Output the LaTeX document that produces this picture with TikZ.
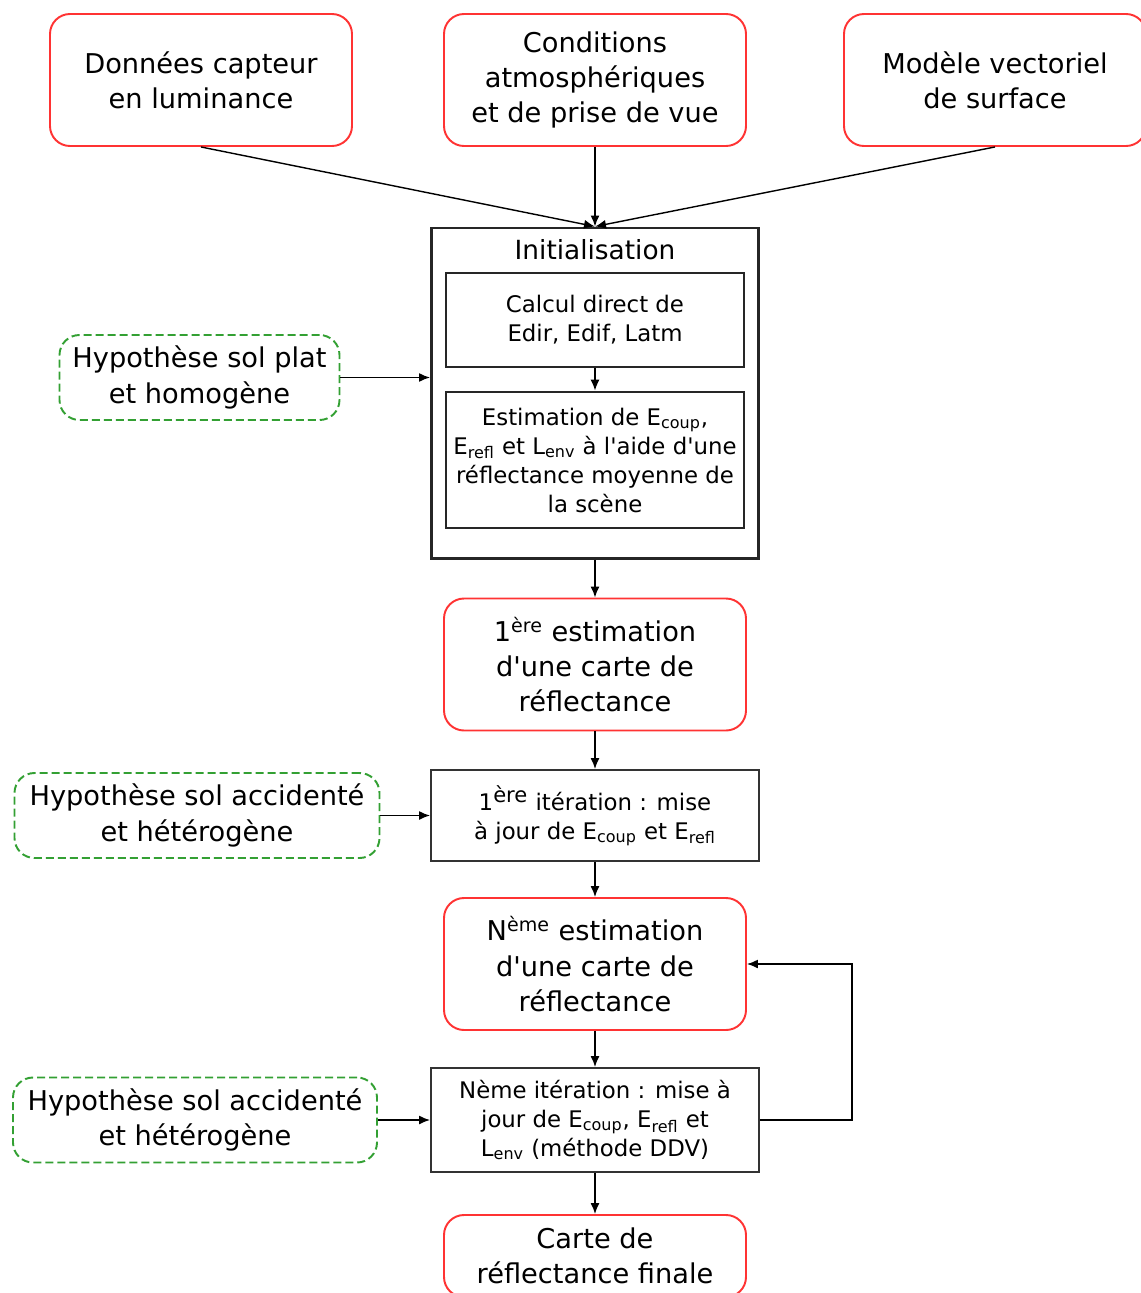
\documentclass[tikz,border=0pt]{standalone}
\usepackage{fontspec}
\setmainfont{DejaVu Sans}
\usetikzlibrary{positioning,arrows.meta}
\definecolor{boxred}{RGB}{255,51,51}
\definecolor{hypgreen}{RGB}{51,160,51}

\begin{document}
\begin{tikzpicture}
[src/.style={draw=boxred,line width=1.1pt,rounded corners=4mm,minimum width=60.4mm,minimum height=26.4mm,align=center,inner sep=0mm,font=\fontsize{15.5}{20}\selectfont},
 hyp/.style={draw=hypgreen,line width=1.1pt,dash pattern=on 1.6mm off 0.8mm,rounded corners=4mm,minimum height=17mm,align=center,inner sep=0mm,font=\fontsize{15.5}{20}\selectfont},
 blk/.style={draw=black!80,line width=1.1pt,minimum width=65.6mm,align=center,inner sep=0mm,font=\fontsize{13}{16.5}\selectfont},
 sub/.style={draw=black!85,line width=1.6pt,minimum width=59.6mm,align=center,inner sep=0mm,font=\fontsize{13}{16.5}\selectfont},
 >={Latex[length=2.2mm,width=1.8mm]},
 thick]
\useasboundingbox (0,0) rectangle (228mm,-258.6mm);
\node[src] (cond) at (119mm,-16mm)                   {Conditions\\atmosphériques\\et de prise de vue};
\node[src] (don)  [on grid,left=78.8mm of cond]      {Données capteur\\en luminance};
\node[src] (mod)  [on grid,right=80mm of cond]       {Modèle vectoriel\\de surface};
\node[draw=black!85,line width=1.7pt,minimum width=65.4mm,minimum height=66mm] (init) [on grid,below=62.6mm of cond] {};
\node[font=\fontsize{15}{20}\selectfont] (initT) [on grid,above=28.6mm of init] {Initialisation};
\node[sub,minimum height=18.8mm] (calc)  [on grid,above=14.6mm of init] {Calcul direct de\\Edir, Edif, Latm};
\node[sub,minimum height=27.2mm] (estim) [on grid,below=13.4mm of init] {Estimation de E\textsubscript{coup},\\E\textsubscript{refl} et L\textsubscript{env} à l\textquotesingle aide d\textquotesingle une\\réflectance moyenne de\\la scène};
\node[hyp,minimum width=56mm]    (hyp1)  [on grid,above left=3.1mm and 79.1mm of init] {Hypothèse sol plat\\et homogène};
\node[src] (est1) [on grid,below=54.3mm of init]     {1\textsuperscript{ère} estimation\\d\textquotesingle une carte de\\réflectance};
\node[blk,minimum height=18.2mm] (it1)   [on grid,below=30.2mm of est1] {1\textsuperscript{\large ère} itération : mise\\à jour de E\textsubscript{coup} et E\textsubscript{refl}};
\node[hyp,minimum width=73mm]    (hyp2)  [on grid,left=79.6mm of it1]   {Hypothèse sol accidenté\\et hétérogène};
\node[src] (estN) [on grid,below=29.7mm of it1]      {N\textsuperscript{ème} estimation\\d\textquotesingle une carte de\\réflectance};
\node[blk,minimum height=20.8mm] (itN)   [on grid,below=31.2mm of estN] {Nème itération : mise à\\jour de E\textsubscript{coup}, E\textsubscript{refl} et\\L\textsubscript{env} (méthode DDV)};
\node[hyp,minimum width=72.8mm]  (hyp3)  [on grid,left=80mm of itN]     {Hypothèse sol accidenté\\et hétérogène};
\node[src,minimum height=16.4mm] (fin)   [on grid,below=27.2mm of itN]  {Carte de\\réflectance finale};
\path[->] (don.south)  edge (init.north);
\path[->] (cond)       edge (init);
\path[->] (mod.south)  edge (init.north);
\path[->] (calc)       edge (estim);
\path[->] (hyp1)       edge (hyp1 -| init.west);
\path[->] (init)       edge (est1);
\path[->] (est1)       edge (it1);
\path[->] (hyp2)       edge (it1);
\path[->] (it1)        edge (estN);
\path[->] (estN)       edge (itN);
\path[->] (hyp3)       edge (itN);
\path[->] (itN)        edge (fin);
\draw[->] (itN.east) -- ++(18.4mm,0) |- (estN.east);
\end{tikzpicture}
\end{document}
